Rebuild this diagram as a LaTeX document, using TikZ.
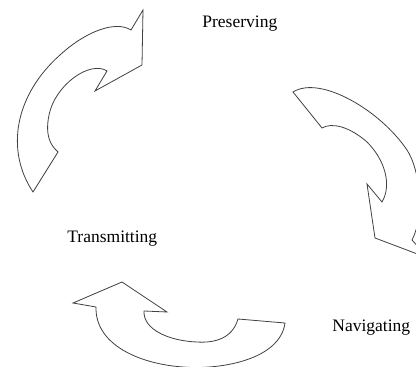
\documentclass[tikz,border=0pt]{standalone}
\usepackage{fontspec}
\setmainfont{Liberation Serif}
\usetikzlibrary{calc}

\begin{document}
\begin{tikzpicture}[x=0.5pt,y=-0.5pt,
        bigarrow/.style={draw=black!75,line width=0.4pt,line join=miter},
        lbl/.style={anchor=base west,inner sep=0pt,font=\fontsize{8.75}{10}\selectfont}]
            \useasboundingbox (0,0) rectangle (416,367);
            \clip (0,0) rectangle (416,367);
            % top left arrow
            \draw[bigarrow] (33,192) .. controls (5,150) and (15,95) .. (60,55)
                .. controls (85,32) and (115,20) .. (131,30)
                -- (143,10) -- (142,65) -- (95,91) -- (107,71)
                .. controls (90,60) and (55,85) .. (49,115)
                .. controls (45,135) and (50,145) .. (58,152) -- cycle;
            % right arrow
            \draw[bigarrow] (293,92) .. controls (320,75) and (380,110) .. (407,150)
                .. controls (420,170) and (425,215) .. (412,240)
                -- (428,258) -- (375,238) -- (367,184) -- (382,202)
                .. controls (392,185) and (385,160) .. (367,142)
                .. controls (350,127) and (332,122) .. (322,128) -- cycle;
            % bottom arrow
            \draw[bigarrow] (285,323) .. controls (280,360) and (220,370) .. (183,367)
                .. controls (140,364) and (95,345) .. (96,307)
                -- (73,303) -- (122,282) -- (167,312) -- (144,311)
                .. controls (143,330) and (170,341) .. (197,342)
                .. controls (212,343) and (232,340) .. (238,319) -- cycle;
            \node[lbl] (pres) at (202,28) {Preserving};
            \node[lbl] (trans) at (67,243) {Transmitting};
            \node[lbl] (nav) at (332,331) {Navigating};
        \end{tikzpicture}
\end{document}
